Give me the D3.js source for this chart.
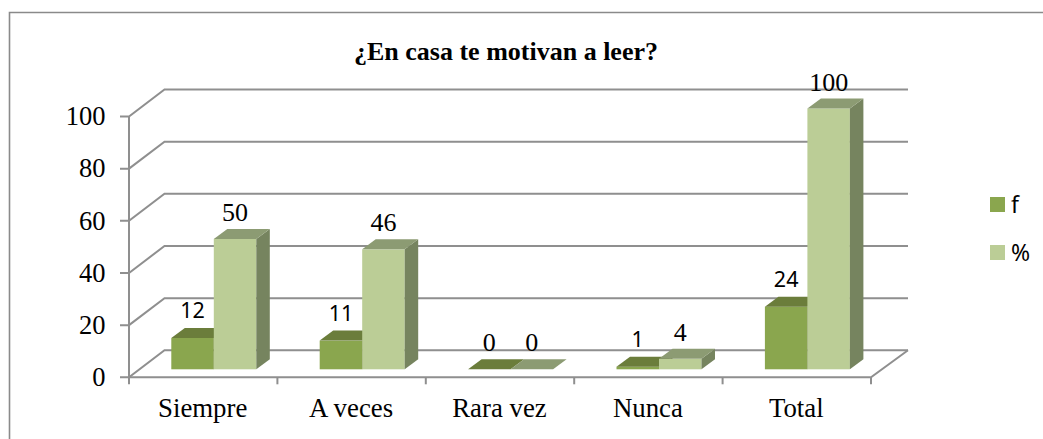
<!DOCTYPE html>
<html><head><meta charset="utf-8">
<script src="https://cdn.jsdelivr.net/npm/d3@7"></script>
<style>html,body{margin:0;padding:0;background:#fff;overflow:hidden}svg{display:block}</style>
</head><body><svg id="c" width="1043" height="439"></svg>
<script>
const chartTitle = "¿En casa te motivan a leer?";
const categories = ["Siempre","A veces","Rara vez","Nunca","Total"];
const seriesNames = ["f","%"];
const fValues = [12,11,0,1,24];
const pctValues = [50,46,0,4,100];
const yTicks = [0,20,40,60,80,100];

const SERIF = "'Liberation Serif','Times New Roman',serif";
const SANS = "'Noto Sans','Open Sans',sans-serif";
const GRID = "#8f8f8f";
const colors = {
  f:   {front:"#8aa64e", top:"#6b7d3b", side:"#667538"},
  "%": {front:"#bbcd96", top:"#8c9b73", side:"#76845f"}
};
const svg = d3.select("#c");

// frame: open towards the right and bottom
svg.append("path").attr("d","M9.5,439V12.5H1043").attr("fill","none").attr("stroke","#8a8a8a").attr("stroke-width",1.6);

svg.append("text").attr("x",506).attr("y",60).attr("text-anchor","middle")
  .attr("font-family",SERIF).attr("font-weight","bold").attr("font-size",26).attr("fill","#000").text(chartTitle);

const x = d3.scaleBand().domain(categories).range([129,871]);
const y = d3.scaleLinear().domain([0,100]).range([377.3,116.5]);
const wall = {dx:35.5, dy:-27};        // depth of the chart box
const bar = {dx:13.5, dy:-10, base:-8}; // depth of bars, lift of bars from front floor edge
const inner = d3.scaleBand().domain(seriesNames).range([42.3,127.3]);

const gl = svg.append("g").attr("fill","none").attr("stroke",GRID).attr("stroke-width",2);
yTicks.forEach(t=>{
  const p = d3.path();
  p.moveTo(x.range()[0]-9,y(t));
  p.lineTo(x.range()[0],y(t));
  p.lineTo(x.range()[0]+wall.dx,y(t)+wall.dy);
  p.lineTo(x.range()[1]+wall.dx+1.5,y(t)+wall.dy);
  gl.append("path").attr("d",p.toString());
});
// axes
gl.append("path").attr("d",`M${x.range()[0]},${y(100)}V${y(0)}`);
gl.append("path").attr("d",`M${x.range()[0]},${y(0)}H${x.range()[1]}L${x.range()[1]+wall.dx+1.5},${y(0)+wall.dy}`);
[...categories.map(c=>x(c)), x.range()[1]].forEach(v=>{
  gl.append("path").attr("d",`M${v},${y(0)}v7`);
});

// y labels
svg.append("g").selectAll("text").data(yTicks).join("text")
  .attr("x",105.5).attr("y",d=>y(d)+8.8).attr("text-anchor","end")
  .attr("font-family",SERIF).attr("font-size",26.5).attr("fill","#000").text(d=>d);
// x labels
svg.append("g").selectAll("text").data(categories).join("text")
  .attr("x",d=>x(d)+x.bandwidth()/2-0.5).attr("y",417).attr("text-anchor","middle")
  .attr("font-family",SERIF).attr("font-size",26.8).attr("fill","#000").text(d=>d);

// bars
const base = y(0)+bar.base;
const h = v => y(0)-y(v);
const g = svg.append("g");
categories.forEach((c,i)=>{
  [["f",fValues[i]],["%",pctValues[i]]].forEach(([s,v])=>{
    const x0 = x(c)+inner(s), w = inner.bandwidth(), t = base-h(v), col = colors[s];
    g.append("rect").attr("x",x0).attr("y",t).attr("width",w).attr("height",h(v)).attr("fill",col.front);
    g.append("path").attr("fill",col.side)
      .attr("d",`M${x0+w},${t}l${bar.dx},${bar.dy}V${base+bar.dy}L${x0+w},${base}Z`);
    g.append("path").attr("fill",col.top)
      .attr("d",`M${x0},${t}l${bar.dx},${bar.dy}h${w}l${-bar.dx},${-bar.dy}Z`);
  });
});
// data labels
categories.forEach((c,i)=>{
  [["f",fValues[i]],["%",pctValues[i]]].forEach(([s,v])=>{
    const sans = s==="f" && v>0;
    g.append("text").attr("x",x(c)+inner(s)+inner.bandwidth()/2)
      .attr("y",base-h(v)-(sans?20:18)).attr("text-anchor","middle")
      .attr("font-family",sans?SANS:SERIF).attr("font-size",sans?21.5:26).attr("fill","#000").text(v);
  });
});

// legend
const ly = d3.scalePoint().domain(seriesNames).range([204.5,252.5]);
const lg = svg.append("g").selectAll("g").data(seriesNames).join("g");
lg.append("rect").attr("x",990).attr("y",d=>ly(d)-7.5).attr("width",15).attr("height",15).attr("fill",d=>colors[d].front);
lg.append("text").attr("x",1011).attr("y",d=>ly(d)+8).attr("font-family",SANS).attr("font-size",23).attr("fill","#000").text(d=>d);
</script></body></html>
